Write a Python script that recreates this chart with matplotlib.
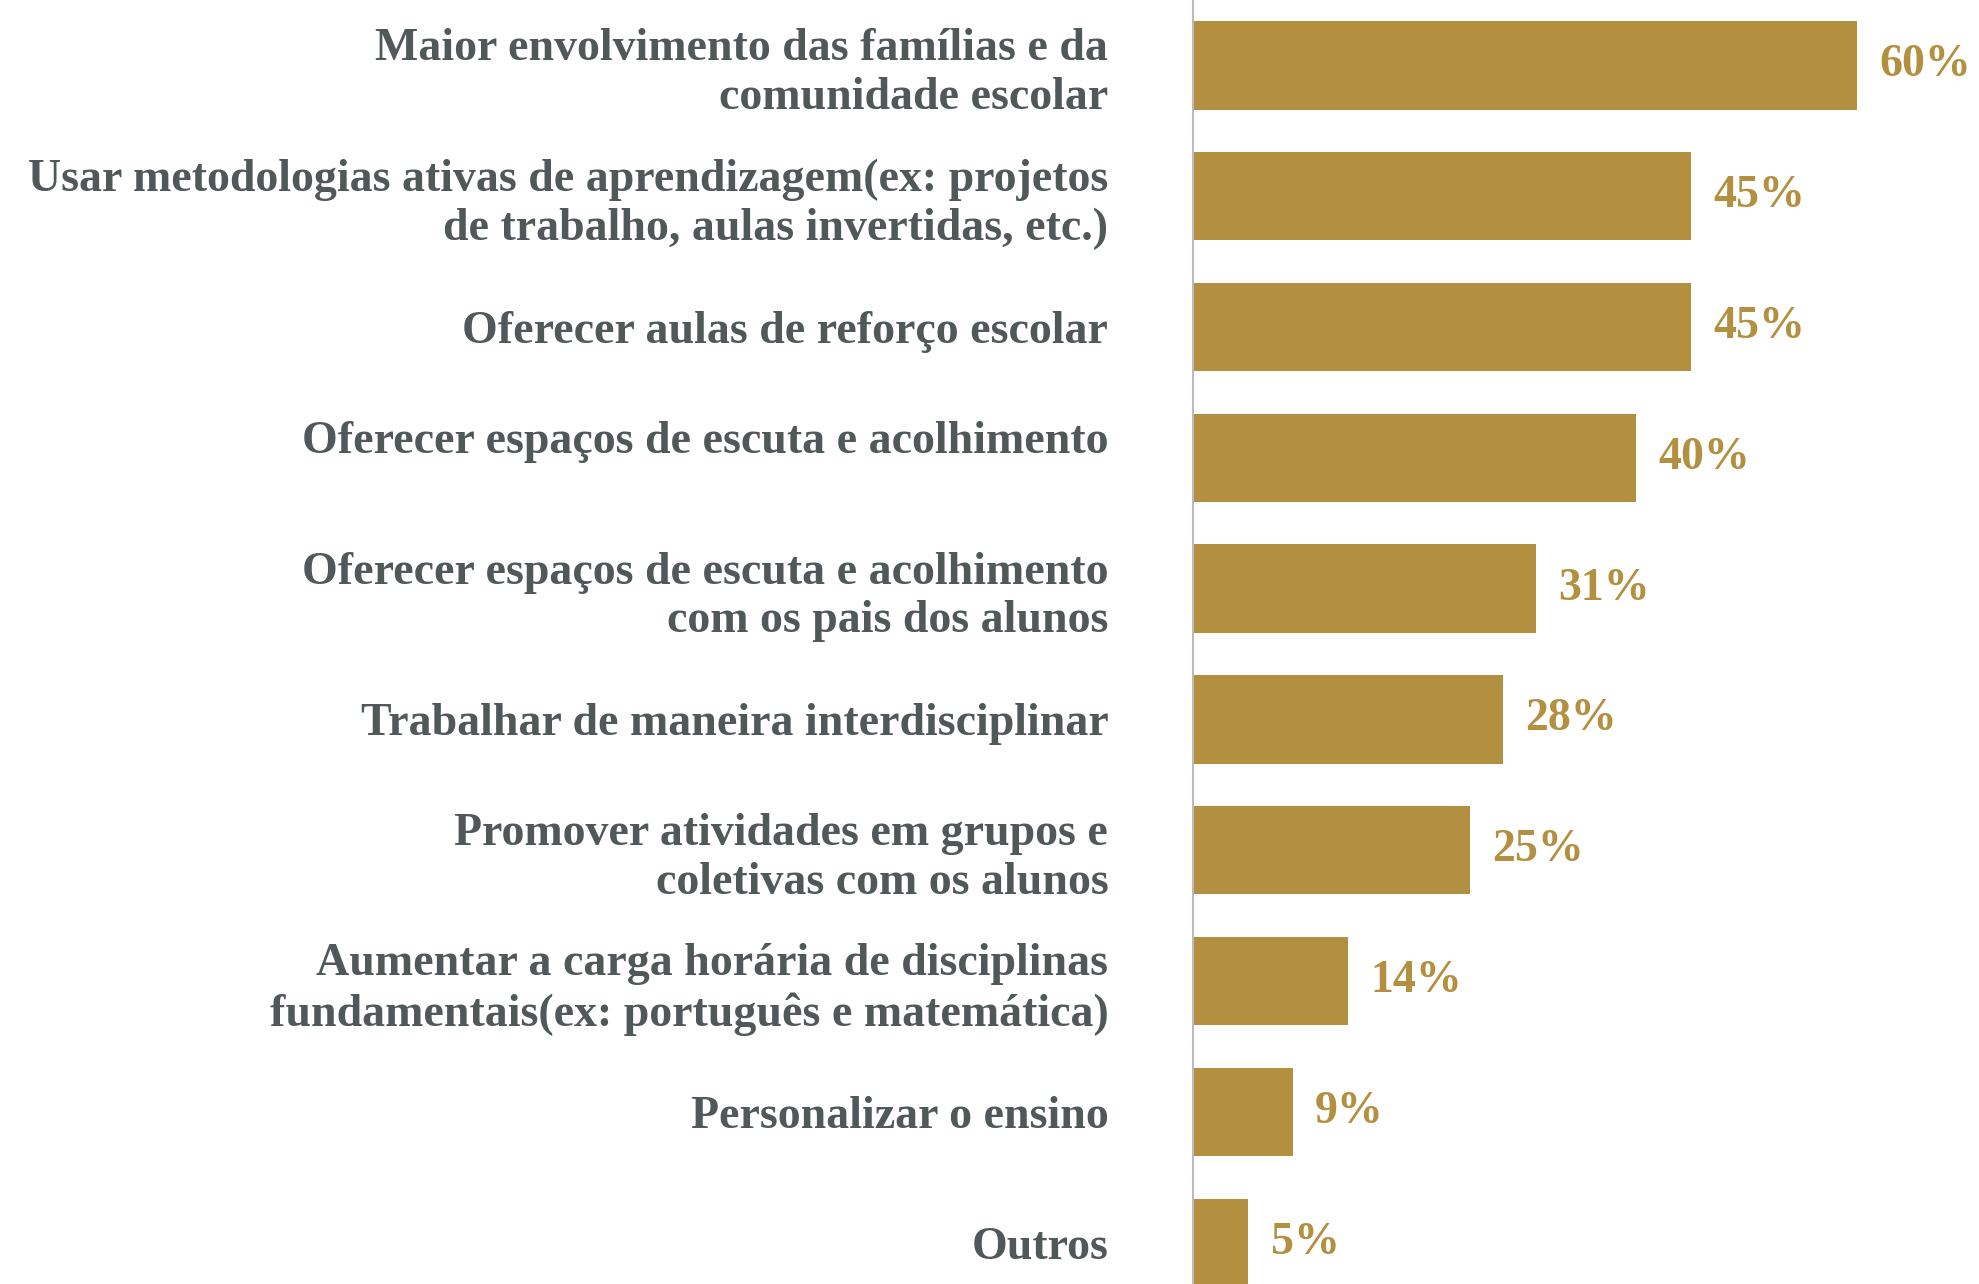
import matplotlib
matplotlib.use("Agg")
import matplotlib.pyplot as plt
import numpy as np

categories = [
    "Maior envolvimento das famílias e da\ncomunidade escolar",
    "Usar metodologias ativas de aprendizagem(ex: projetos\nde trabalho, aulas invertidas, etc.)",
    "Oferecer aulas de reforço escolar",
    # the original label carries an empty second line, so it sits above its bar
    "Oferecer espaços de escuta e acolhimento\n",
    "Oferecer espaços de escuta e acolhimento\ncom os pais dos alunos",
    "Trabalhar de maneira interdisciplinar",
    "Promover atividades em grupos e\ncoletivas com os alunos",
    "Aumentar a carga horária de disciplinas\nfundamentais(ex: português e matemática)",
    "Personalizar o ensino",
    "Outros",
]
values = [60, 45, 45, 40, 31, 28, 25, 14, 9, 5]

bar_color = "#B38F40"
text_color = "#50585A"

plt.rcParams["font.family"] = ["Liberation Serif", "DejaVu Serif"]

W, H = 1979, 1284
fig = plt.figure(figsize=(W / 100, H / 100), dpi=100)
ax = fig.add_axes([1193 / W, 0, 1 - 1193 / W, 1])

y = np.arange(len(values))
bars = ax.barh(y, values, height=0.675, color=bar_color)
ax.bar_label(bars, labels=[f"{v}%" for v in values], padding=16,
             fontsize=33, fontweight="bold", color=bar_color)

ax.set_xlim(0, 71)
ax.set_ylim(9.316, -0.5)

ax.set_yticks(y)
ax.set_yticklabels(categories, fontsize=33, fontweight="bold", color=text_color,
                   linespacing=1.2)
ax.tick_params(axis="y", length=0, pad=61)
ax.set_xticks([])

for s in ["top", "right", "bottom"]:
    ax.spines[s].set_visible(False)
ax.spines["left"].set_color("#BBBBBB")
ax.spines["left"].set_linewidth(1.5)

plt.savefig("out.png", dpi=100)
plt.close()
